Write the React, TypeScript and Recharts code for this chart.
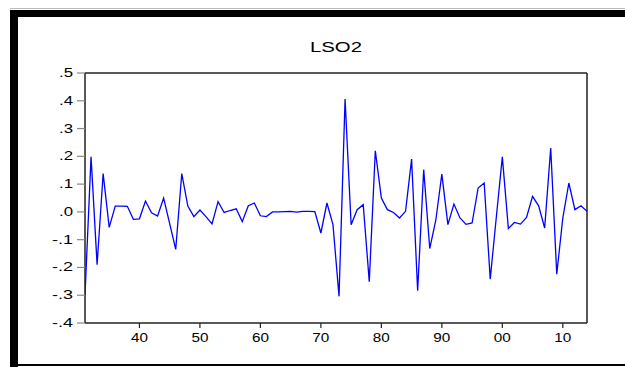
import React from "react";
import { LineChart, Line, XAxis, YAxis, ReferenceLine } from "recharts";

const years = [
  1931, 1932, 1933, 1934, 1935, 1936, 1937, 1938, 1939, 1940,
  1941, 1942, 1943, 1944, 1945, 1946, 1947, 1948, 1949, 1950,
  1951, 1952, 1953, 1954, 1955, 1956, 1957, 1958, 1959, 1960,
  1961, 1962, 1963, 1964, 1965, 1966, 1967, 1968, 1969, 1970,
  1971, 1972, 1973, 1974, 1975, 1976, 1977, 1978, 1979, 1980,
  1981, 1982, 1983, 1984, 1985, 1986, 1987, 1988, 1989, 1990,
  1991, 1992, 1993, 1994, 1995, 1996, 1997, 1998, 1999, 2000,
  2001, 2002, 2003, 2004, 2005, 2006, 2007, 2008, 2009, 2010,
  2011, 2012, 2013, 2014,
];

const lso2 = [
  -0.298, 0.198, -0.19, 0.138, -0.056, 0.021, 0.021, 0.02, -0.027, -0.025,
  0.039, -0.003, -0.015, 0.05, -0.042, -0.135, 0.138, 0.021, -0.017, 0.007,
  -0.017, -0.043, 0.037, -0.002, 0.005, 0.011, -0.035, 0.022, 0.032, -0.014,
  -0.017, 0.0, 0.0, 0.001, 0.002, -0.001, 0.002, 0.002, 0.001, -0.076,
  0.032, -0.046, -0.304, 0.406, -0.046, 0.008, 0.026, -0.251, 0.22, 0.05,
  0.008, -0.002, -0.022, 0.002, 0.19, -0.284, 0.152, -0.132, -0.03, 0.136,
  -0.046, 0.028, -0.022, -0.045, -0.04, 0.086, 0.104, -0.242, -0.02, 0.198,
  -0.06, -0.038, -0.044, -0.02, 0.056, 0.022, -0.058, 0.23, -0.224, -0.022,
  0.104, 0.008, 0.022, 0.002,
];

const xTicks = [1940, 1950, 1960, 1970, 1980, 1990, 2000, 2010];
const yTicks = [-0.4, -0.3, -0.2, -0.1, 0.0, 0.1, 0.2, 0.3, 0.4, 0.5];
const title = "LSO2";

const data = years.map((y, i) => ({ year: y, v: lso2[i] }));

const fmtY = (v: number) => {
  const s = Math.abs(v).toFixed(1).replace(/^0/, "");
  return v < -1e-9 ? "-" + s : s;
};
const fmtX = (v: number) => String(v % 100).padStart(2, "0");

const FONT = "'Liberation Sans', Arial, sans-serif";

const XTick = (props: any) => {
  const { x, y, payload } = props;
  const label = fmtX(payload.value);
  return (
    <text
      x={x}
      y={y + 12}
      textAnchor="middle"
      fontFamily={FONT}
      fontSize={13}
      fill="#000"
      textLength={17}
      lengthAdjust="spacingAndGlyphs"
    >
      {label}
    </text>
  );
};

const YTick = (props: any) => {
  const { x, y, payload } = props;
  const label = fmtY(payload.value);
  const w = label.length === 3 ? 21 : 14;
  return (
    <text
      x={73}
      y={y + 4}
      textAnchor="end"
      fontFamily={FONT}
      fontSize={12}
      fill="#000"
      textLength={w}
      lengthAdjust="spacingAndGlyphs"
    >
      {label}
    </text>
  );
};

export default function App() {
  return (
    <div
      style={{
        position: "absolute",
        left: 0,
        top: 0,
        width: 625,
        height: 367,
        background: "#fff",
        overflow: "hidden",
      }}
    >
      <div style={{ position: "absolute", left: 10, top: 8, width: 615, height: 1, background: "#bbb" }} />
      <div style={{ position: "absolute", left: 10, top: 10, width: 615, height: 7, background: "#000" }} />
      <div style={{ position: "absolute", left: 10, top: 10, width: 8, height: 357, background: "#000" }} />
      <div style={{ position: "absolute", left: 10, top: 364, width: 615, height: 2, background: "#000" }} />
      <svg
        style={{ position: "absolute", left: 0, top: 0 }}
        width={625}
        height={367}
      >
        <text
          x={336}
          y={52}
          textAnchor="middle"
          fontFamily={FONT}
          fontSize={14}
          fill="#000"
          textLength={52}
          lengthAdjust="spacingAndGlyphs"
        >
          {title}
        </text>
      </svg>
      <div style={{ position: "absolute", left: 0, top: 0 }}>
        <LineChart
          width={625}
          height={367}
          data={data}
          margin={{ top: 73, right: 38, bottom: 14, left: 25 }}
        >
          <XAxis
            dataKey="year"
            type="number"
            domain={[1931, 2014]}
            ticks={xTicks}
            interval={0}
            height={30}
            tickSize={5}
            axisLine={{ stroke: "#222", strokeWidth: 1.5 }}
            tickLine={{ stroke: "#222", strokeWidth: 1.2 }}
            tick={<XTick />}
            allowDataOverflow
          />
          <YAxis
            type="number"
            domain={[-0.4, 0.5]}
            ticks={yTicks}
            interval={0}
            width={60}
            tickSize={8}
            axisLine={{ stroke: "#222", strokeWidth: 1.5 }}
            tickLine={{ stroke: "#888", strokeWidth: 1.2 }}
            tick={<YTick />}
            allowDataOverflow
          />
          <ReferenceLine y={0.5} stroke="#222" strokeWidth={1.5} ifOverflow="visible" />
          <ReferenceLine x={2014} stroke="#222" strokeWidth={1.5} ifOverflow="visible" />
          <Line
            type="linear"
            dataKey="v"
            stroke="#0000ff"
            strokeWidth={1.3}
            dot={false}
            isAnimationActive={false}
          />
        </LineChart>
      </div>
    </div>
  );
}
